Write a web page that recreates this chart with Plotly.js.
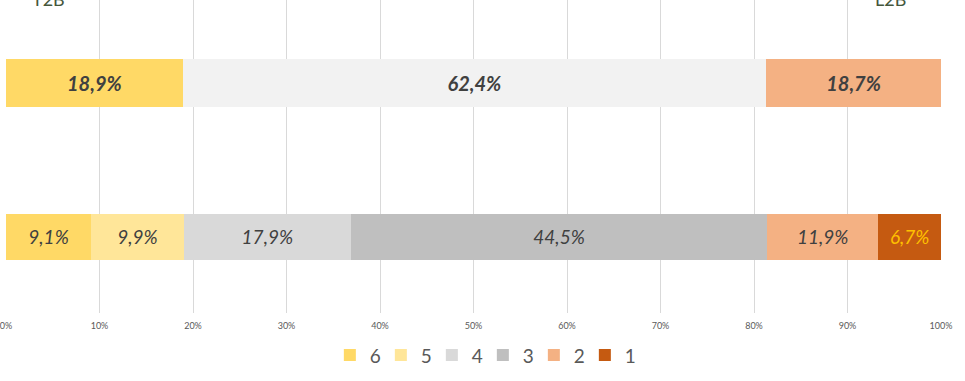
<!DOCTYPE html>
<html>
<head>
<meta charset="utf-8">
<script src="https://cdn.plot.ly/plotly-3.0.1.min.js"></script>
<style>html,body{margin:0;padding:0;background:#fff;}#chart{width:965px;height:381px;}</style>
</head>
<body>
<div id="chart"></div>
<script>
const categories = ['Scale', 'Summary'];
const summaryNames = ['T2B', 'Neutral', 'L2B'];
const summaryValues = [18.9, 62.4, 18.7];
const summaryColors = ['#FFD966', '#F2F2F2', '#F4B183'];
const scaleNames = ['6', '5', '4', '3', '2', '1'];
const scaleValues = [9.1, 9.9, 17.9, 44.5, 11.9, 6.7];
const scaleColors = ['#FFD966', '#FFE699', '#D9D9D9', '#BFBFBF', '#F4B183', '#C55A11'];
const scaleTextColors = ['#404040', '#404040', '#404040', '#404040', '#404040', '#FFC000'];
const tickVals = [0, 10, 20, 30, 40, 50, 60, 70, 80, 90, 100];
const tickLabels = ['0%', '10%', '20%', '30%', '40%', '50%', '60%', '70%', '80%', '90%', '100%'];
const headerLabels = ['T2B', 'L2B'];
const headerPositions = [4.5, 94.6];

const FONT = 'Lato, "Open Sans", sans-serif';
const traces = [];
summaryNames.forEach((n, i) => {
  traces.push({
    type: 'bar', orientation: 'h', name: n, showlegend: false,
    y: [categories[1]], x: [summaryValues[i]], width: 0.31,
    marker: {color: summaryColors[i], line: {width: 0}},
    texttemplate: '%{x:.1f}%', textposition: 'inside', insidetextanchor: 'middle',
    textangle: 0, constraintext: 'none',
    textfont: {family: FONT, size: 20, color: '#404040', weight: 'bold', style: 'italic'},
    hoverinfo: 'skip'
  });
});
scaleNames.forEach((n, i) => {
  traces.push({
    type: 'bar', orientation: 'h', name: n,
    y: [categories[0]], x: [scaleValues[i]], width: 0.30,
    marker: {color: scaleColors[i], line: {width: 0}},
    texttemplate: '%{x:.1f}%', textposition: 'inside', insidetextanchor: 'middle',
    textangle: 0, constraintext: 'none',
    textfont: {family: FONT, size: 19, color: scaleTextColors[i], style: 'italic'},
    hoverinfo: 'skip'
  });
});

const layout = {
  width: 965, height: 381,
  margin: {l: 6, r: 24, t: 0, b: 68},
  barmode: 'stack',
  separators: ',.',
  paper_bgcolor: '#fff', plot_bgcolor: '#fff',
  font: {family: FONT, color: '#595959'},
  xaxis: {
    range: [0, 100], tickmode: 'array', tickvals: tickVals, ticktext: tickLabels,
    ticklabeloverflow: 'allow', ticklabelstandoff: 6,
    showgrid: true, gridcolor: '#D9D9D9', gridwidth: 1,
    zeroline: false, showline: false, ticks: '',
    tickfont: {size: 9, color: '#595959'}, fixedrange: true
  },
  yaxis: {
    type: 'category', categoryarray: categories, range: [-0.494, 1.539],
    showticklabels: false, showgrid: false, zeroline: false, showline: false, ticks: ''
  },
  legend: {
    orientation: 'h', x: 0.51, xanchor: 'center', y: -0.135, yanchor: 'middle',
    traceorder: 'normal', font: {size: 19, color: '#595959'},
    itemwidth: 30, entrywidth: 6, entrywidthmode: 'pixels'
  },
  annotations: headerLabels.map((t, i) => ({
    text: t, x: headerPositions[i], xref: 'x', y: 1 + 1 / 313, yref: 'paper',
    yanchor: 'middle', xanchor: 'center', showarrow: false,
    font: {family: FONT, size: 18, color: '#45573C'}
  }))
};
Plotly.newPlot('chart', traces, layout, {displayModeBar: false, staticPlot: true});
</script>
</body>
</html>
